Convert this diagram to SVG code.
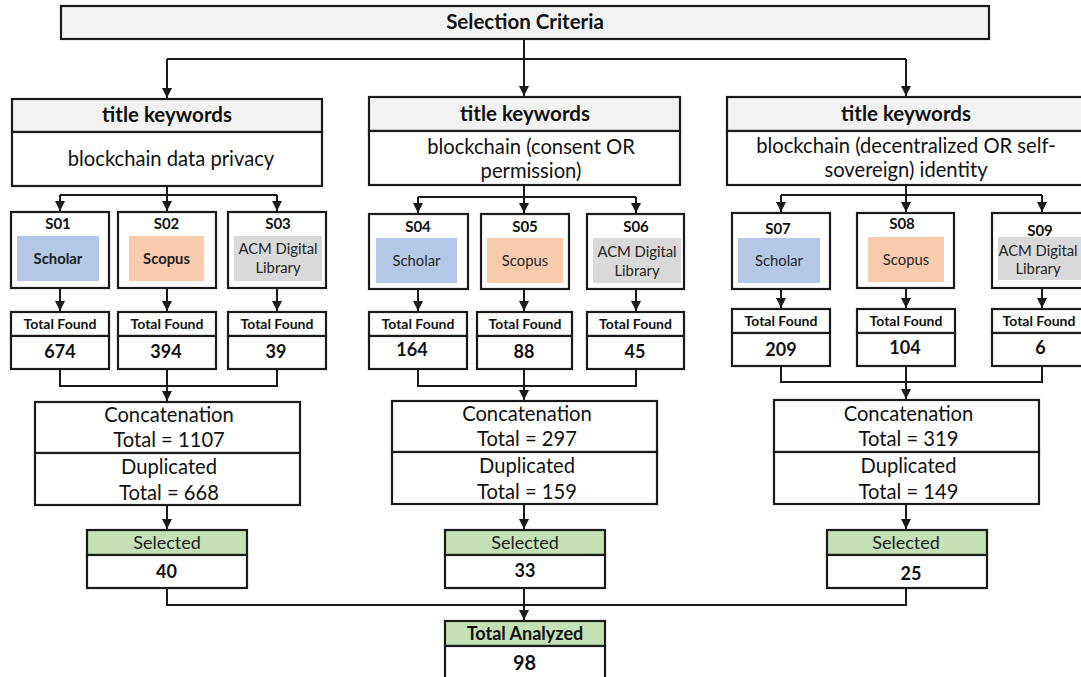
<svg xmlns="http://www.w3.org/2000/svg" width="1081" height="677" viewBox="0 0 1081 677">
<style>
text{font-family:Lato,"Liberation Sans",sans-serif;fill:#111;text-anchor:middle}
.box{fill:#fff;stroke:#1a1a1a;stroke-width:2.2}
.hdr{fill:#f2f2f2;stroke:#1a1a1a;stroke-width:2.2}
.grn{fill:#c5e0b4;stroke:#1a1a1a;stroke-width:2.2}
.sch{fill:#b4c7e7}.sco{fill:#f8cbad}.acm{fill:#d9d9d9}
.big{font-size:20.2px}
.bigb{font-size:20.5px;font-weight:bold}
.sl{font-size:15px;font-weight:bold}
.db{font-size:14.8px;fill:#262626}
.dbb{font-size:14.8px;fill:#1f1f1f;font-weight:bold}
.tf{font-size:14px;font-weight:bold}
.num{font-size:18px;font-weight:bold}
.sel{font-size:18px;fill:#222}
.con line,.con path{stroke:#1a1a1a;stroke-width:2;fill:none}
</style>
<defs>
<marker id="ah" markerUnits="userSpaceOnUse" markerWidth="11" markerHeight="11" refX="10" refY="5" orient="auto">
<path d="M0,0 L10,5 L0,10 z" fill="#1a1a1a"/>
</marker>
</defs>

<g id="connectors" class="con">
<path d="M524,39 V59"/>
<path d="M167,59 H906"/>
<path d="M524,59 V96" marker-end="url(#ah)"/>
<path d="M167,59 V98" marker-end="url(#ah)"/>
<path d="M906,59 V96" marker-end="url(#ah)"/>

<path d="M167,186 V195 M60,195 H277"/>
<path d="M60,195 V211" marker-end="url(#ah)"/>
<path d="M167,195 V211" marker-end="url(#ah)"/>
<path d="M277,195 V211" marker-end="url(#ah)"/>
<path d="M60,288 V311" marker-end="url(#ah)"/>
<path d="M167,288 V311" marker-end="url(#ah)"/>
<path d="M277,288 V311" marker-end="url(#ah)"/>
<path d="M60,369 V386 H277 V369"/>
<path d="M167,369 V401" marker-end="url(#ah)"/>
<path d="M167,505 V529" marker-end="url(#ah)"/>

<path d="M524,185 V197 M418,197 H636"/>
<path d="M418,197 V213" marker-end="url(#ah)"/>
<path d="M524,197 V213" marker-end="url(#ah)"/>
<path d="M636,197 V213" marker-end="url(#ah)"/>
<path d="M418,289 V311" marker-end="url(#ah)"/>
<path d="M524,289 V311" marker-end="url(#ah)"/>
<path d="M636,289 V311" marker-end="url(#ah)"/>
<path d="M418,369 V386 H636 V369"/>
<path d="M524,369 V400" marker-end="url(#ah)"/>
<path d="M524,504 V529" marker-end="url(#ah)"/>

<path d="M906,185 V195 M781,195 H1042"/>
<path d="M781,195 V212" marker-end="url(#ah)"/>
<path d="M906,195 V212" marker-end="url(#ah)"/>
<path d="M1042,195 V212" marker-end="url(#ah)"/>
<path d="M781,289 V308" marker-end="url(#ah)"/>
<path d="M906,289 V308" marker-end="url(#ah)"/>
<path d="M1042,289 V308" marker-end="url(#ah)"/>
<path d="M781,366 V382 H1042 V366"/>
<path d="M906,366 V399" marker-end="url(#ah)"/>
<path d="M906,504 V529" marker-end="url(#ah)"/>

<path d="M167,588 V605 H906 V588"/>
<path d="M524,588 V620" marker-end="url(#ah)"/>
</g>

<g id="selection-criteria">
<rect class="hdr" x="61" y="6" width="928" height="33"/>
<text class="bigb" x="525" y="29">Selection Criteria</text>
</g>

<g id="keywords-1">
<rect class="hdr" x="12" y="99" width="310" height="33"/>
<rect class="box" x="12" y="132" width="310" height="54"/>
<text class="bigb" x="167" y="122">title keywords</text>
<text class="big" x="171" y="166">blockchain data privacy</text>
</g>
<g id="keywords-2">
<rect class="hdr" x="369" y="97" width="311" height="34"/>
<rect class="box" x="369" y="131" width="311" height="54"/>
<text class="bigb" x="525" y="121">title keywords</text>
<text class="big" x="531" y="154">blockchain (consent OR</text>
<text class="big" x="531" y="178">permission)</text>
</g>
<g id="keywords-3">
<rect class="hdr" x="727" y="97" width="360" height="34"/>
<rect class="box" x="727" y="131" width="360" height="54"/>
<text class="bigb" x="906" y="121">title keywords</text>
<text class="big" x="906" y="153">blockchain (decentralized OR self-</text>
<text class="big" x="906" y="177">sovereign) identity</text>
</g>

<g id="S01">
<rect class="box" x="11" y="212" width="98" height="76"/>
<rect class="sch" x="17" y="236" width="82" height="45"/>
<text class="sl" x="58" y="229">S01</text>
<text class="dbb" x="58" y="264">Scholar</text>
</g>
<g id="S02">
<rect class="box" x="118" y="212" width="98" height="76"/>
<rect class="sco" x="129" y="236" width="75" height="45"/>
<text class="sl" x="166.5" y="229">S02</text>
<text class="dbb" x="166.5" y="264">Scopus</text>
</g>
<g id="S03">
<rect class="box" x="228" y="212" width="98" height="76"/>
<rect class="acm" x="234" y="236" width="88" height="45"/>
<text class="sl" x="278" y="229">S03</text>
<text class="db" x="278" y="254">ACM Digital</text>
<text class="db" x="278" y="273">Library</text>
</g>
<g id="S04">
<rect class="box" x="369" y="214" width="99" height="75"/>
<rect class="sch" x="376" y="238" width="81" height="45"/>
<text class="sl" x="418" y="232">S04</text>
<text class="db" x="416.5" y="266">Scholar</text>
</g>
<g id="S05">
<rect class="box" x="481" y="214" width="88" height="75"/>
<rect class="sco" x="487" y="238" width="76" height="45"/>
<text class="sl" x="525" y="232">S05</text>
<text class="db" x="525" y="266">Scopus</text>
</g>
<g id="S06">
<rect class="box" x="587" y="214" width="97" height="75"/>
<rect class="acm" x="593" y="238" width="88" height="45"/>
<text class="sl" x="636" y="232">S06</text>
<text class="db" x="637" y="257">ACM Digital</text>
<text class="db" x="637" y="276">Library</text>
</g>
<g id="S07">
<rect class="box" x="732" y="213" width="98" height="76"/>
<rect class="sch" x="738" y="238" width="82" height="45"/>
<text class="sl" x="778" y="234">S07</text>
<text class="db" x="779" y="266">Scholar</text>
</g>
<g id="S08">
<rect class="box" x="857" y="213" width="97" height="75"/>
<rect class="sco" x="868" y="237" width="76" height="45"/>
<text class="sl" x="902" y="229">S08</text>
<text class="db" x="906" y="265">Scopus</text>
</g>
<g id="S09">
<rect class="box" x="992" y="213" width="98" height="75"/>
<rect class="acm" x="998" y="237" width="86" height="43"/>
<text class="sl" x="1040" y="236">S09</text>
<text class="db" x="1038" y="256">ACM Digital</text>
<text class="db" x="1038" y="274">Library</text>
</g>

<g id="found-S01">
<rect class="box" x="11" y="312" width="98" height="24"/>
<rect class="box" x="11" y="336" width="98" height="33"/>
<text class="tf" x="60" y="329">Total Found</text>
<text class="num" x="60" y="358">674</text>
</g>
<g id="found-S02">
<rect class="box" x="118" y="312" width="98" height="24"/>
<rect class="box" x="118" y="336" width="98" height="33"/>
<text class="tf" x="167" y="329">Total Found</text>
<text class="num" x="166" y="358">394</text>
</g>
<g id="found-S03">
<rect class="box" x="228" y="312" width="98" height="24"/>
<rect class="box" x="228" y="336" width="98" height="33"/>
<text class="tf" x="277" y="329">Total Found</text>
<text class="num" x="276" y="358">39</text>
</g>
<g id="found-S04">
<rect class="box" x="369" y="312" width="98" height="24"/>
<rect class="box" x="369" y="336" width="98" height="33"/>
<text class="tf" x="418" y="329">Total Found</text>
<text class="num" x="412" y="356">164</text>
</g>
<g id="found-S05">
<rect class="box" x="477" y="312" width="95" height="24"/>
<rect class="box" x="477" y="336" width="95" height="33"/>
<text class="tf" x="525" y="329">Total Found</text>
<text class="num" x="524" y="358">88</text>
</g>
<g id="found-S06">
<rect class="box" x="587" y="312" width="97" height="24"/>
<rect class="box" x="587" y="336" width="97" height="33"/>
<text class="tf" x="635.5" y="329">Total Found</text>
<text class="num" x="635" y="358">45</text>
</g>
<g id="found-S07">
<rect class="box" x="732" y="309" width="98" height="24"/>
<rect class="box" x="732" y="333" width="98" height="33"/>
<text class="tf" x="781" y="326">Total Found</text>
<text class="num" x="781" y="356">209</text>
</g>
<g id="found-S08">
<rect class="box" x="857" y="309" width="98" height="24"/>
<rect class="box" x="857" y="333" width="98" height="33"/>
<text class="tf" x="906" y="326">Total Found</text>
<text class="num" x="905" y="354">104</text>
</g>
<g id="found-S09">
<rect class="box" x="992" y="309" width="98" height="24"/>
<rect class="box" x="992" y="333" width="98" height="33"/>
<text class="tf" x="1039" y="326">Total Found</text>
<text class="num" x="1040.5" y="354">6</text>
</g>

<g id="concat-1">
<rect class="box" x="35" y="402" width="265" height="51"/>
<rect class="box" x="35" y="453" width="265" height="52"/>
<text class="big" x="169" y="421.5">Concatenation</text>
<text class="big" x="169" y="447">Total = 1107</text>
<text class="big" x="169" y="474">Duplicated</text>
<text class="big" x="169" y="500">Total = 668</text>
</g>
<g id="concat-2">
<rect class="box" x="392" y="401" width="265" height="51"/>
<rect class="box" x="392" y="452" width="265" height="52"/>
<text class="big" x="527" y="420.5">Concatenation</text>
<text class="big" x="527" y="445.5">Total = 297</text>
<text class="big" x="527" y="473">Duplicated</text>
<text class="big" x="527" y="499">Total = 159</text>
</g>
<g id="concat-3">
<rect class="box" x="774" y="400" width="265" height="52"/>
<rect class="box" x="774" y="452" width="265" height="52"/>
<text class="big" x="908.5" y="420.5">Concatenation</text>
<text class="big" x="908.5" y="445.5">Total = 319</text>
<text class="big" x="908.5" y="473">Duplicated</text>
<text class="big" x="908.5" y="498.5">Total = 149</text>
</g>

<g id="selected-1">
<rect class="grn" x="87" y="530" width="160" height="25"/>
<rect class="box" x="87" y="555" width="160" height="33"/>
<text class="sel" x="167" y="549">Selected</text>
<text class="num" x="166.5" y="577.5">40</text>
</g>
<g id="selected-2">
<rect class="grn" x="445" y="530" width="160" height="25"/>
<rect class="box" x="445" y="555" width="160" height="33"/>
<text class="sel" x="525" y="549">Selected</text>
<text class="num" x="525" y="577">33</text>
</g>
<g id="selected-3">
<rect class="grn" x="827" y="530" width="160" height="25"/>
<rect class="box" x="827" y="555" width="160" height="33"/>
<text class="sel" x="906" y="549">Selected</text>
<text class="num" x="911" y="580">25</text>
</g>

<g id="total-analyzed">
<rect class="grn" x="445" y="621" width="160" height="25"/>
<rect class="box" x="445" y="646" width="160" height="40"/>
<text class="num" x="525" y="639.5">Total Analyzed</text>
<text class="num" style="font-size:20px" x="524.5" y="670">98</text>
</g>
</svg>
